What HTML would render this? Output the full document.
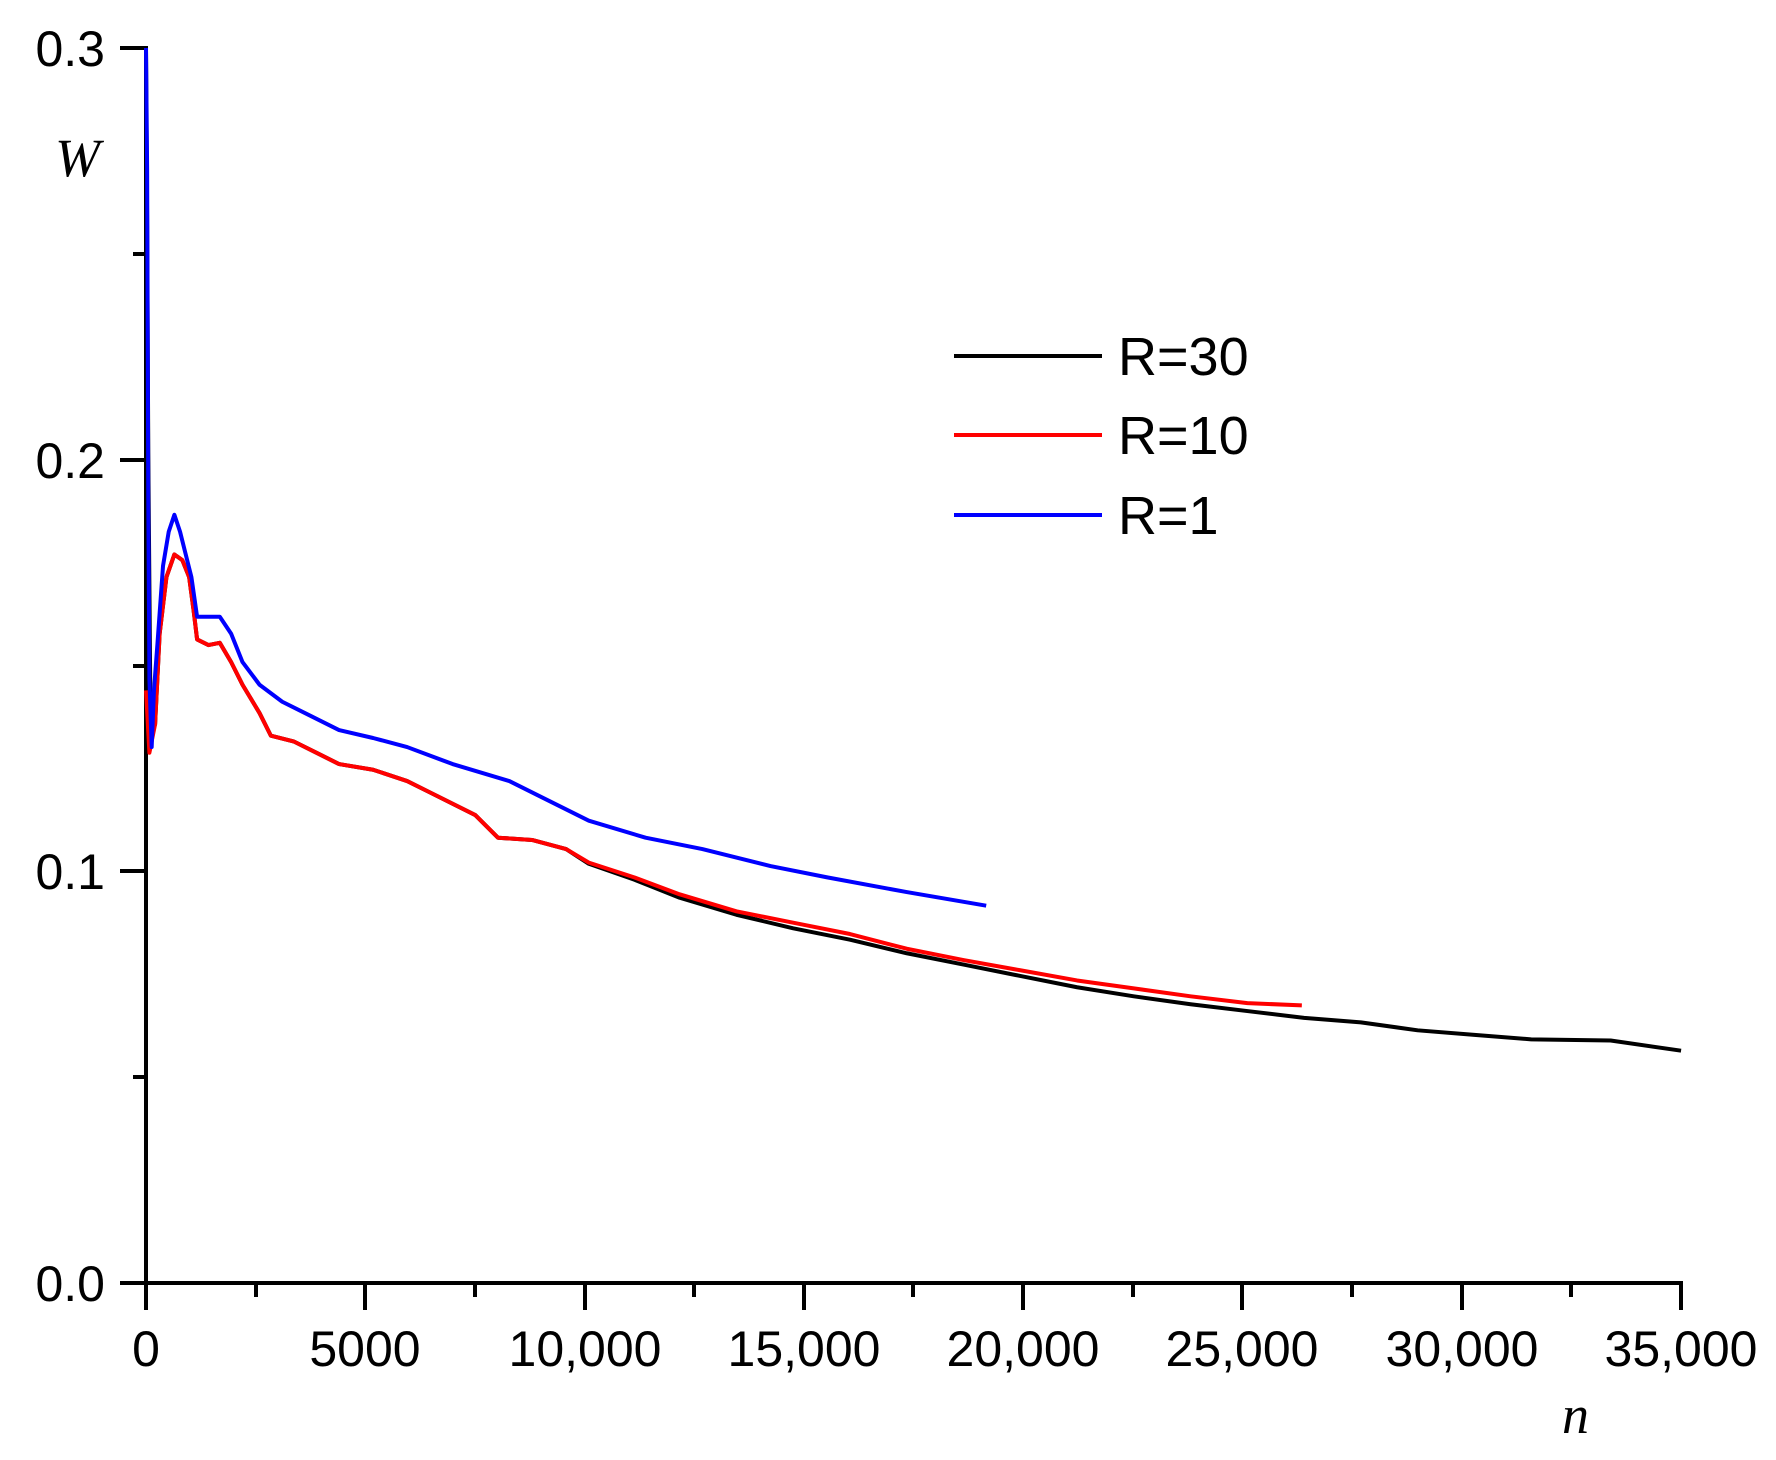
<!DOCTYPE html>
<html><head><meta charset="utf-8"><style>
html,body{margin:0;padding:0;background:#fff;}
svg{display:block;}
text{font-family:"Liberation Sans",sans-serif;fill:#000;}
</style></head><body>
<svg width="1776" height="1460" viewBox="0 0 1776 1460" xmlns="http://www.w3.org/2000/svg">
<g stroke="#000" stroke-width="4" fill="none">
<line x1="146" y1="46" x2="146" y2="1294"/>
<line x1="120" y1="1283" x2="1683" y2="1283"/>
<line x1="1681" y1="1281" x2="1681" y2="1310"/>
<line x1="120" y1="48" x2="146" y2="48"/>
<line x1="120" y1="460" x2="146" y2="460"/>
<line x1="120" y1="871" x2="146" y2="871"/>
<line x1="133" y1="254" x2="146" y2="254"/>
<line x1="133" y1="666" x2="146" y2="666"/>
<line x1="133" y1="1077" x2="146" y2="1077"/>
<line x1="146" y1="1283" x2="146" y2="1310"/>
<line x1="256" y1="1283" x2="256" y2="1297"/>
<line x1="365" y1="1283" x2="365" y2="1310"/>
<line x1="475" y1="1283" x2="475" y2="1297"/>
<line x1="585" y1="1283" x2="585" y2="1310"/>
<line x1="694" y1="1283" x2="694" y2="1297"/>
<line x1="804" y1="1283" x2="804" y2="1310"/>
<line x1="913" y1="1283" x2="913" y2="1297"/>
<line x1="1023" y1="1283" x2="1023" y2="1310"/>
<line x1="1133" y1="1283" x2="1133" y2="1297"/>
<line x1="1242" y1="1283" x2="1242" y2="1310"/>
<line x1="1352" y1="1283" x2="1352" y2="1297"/>
<line x1="1462" y1="1283" x2="1462" y2="1310"/>
<line x1="1571" y1="1283" x2="1571" y2="1297"/>
</g>
<g font-size="50" text-anchor="end">
<text x="105" y="66">0.3</text>
<text x="105" y="478">0.2</text>
<text x="105" y="889">0.1</text>
<text x="105" y="1301">0.0</text>
</g>
<g font-size="50" text-anchor="middle">
<text x="146" y="1366">0</text>
<text x="365" y="1366">5000</text>
<text x="585" y="1366">10,000</text>
<text x="804" y="1366">15,000</text>
<text x="1023" y="1366">20,000</text>
<text x="1242" y="1366">25,000</text>
<text x="1462" y="1366">30,000</text>
<text x="1681" y="1366">35,000</text>
</g>
<text x="55" y="176" font-size="54" font-style="italic" style="font-family:'Liberation Serif',serif">W</text>
<text x="1562" y="1433" font-size="54" font-style="italic" style="font-family:'Liberation Serif',serif">n</text>
<g stroke-width="4" fill="none">
<line x1="954" y1="356" x2="1102" y2="356" stroke="#000"/>
<line x1="954" y1="435" x2="1102" y2="435" stroke="#f00"/>
<line x1="954" y1="515" x2="1102" y2="515" stroke="#00f"/>
</g>
<g font-size="54">
<text x="1118" y="375">R=30</text>
<text x="1118" y="454">R=10</text>
<text x="1118" y="534">R=1</text>
</g>
<g transform="translate(146,48) scale(1.1354,1.133) translate(-130,-43)" fill="none" stroke-linejoin="round">
<polyline vector-effect="non-scaling-stroke" stroke="#000" stroke-width="4" points="130,43 131,200 132,400 134,640 138,640 142,560 148,510 155,490 162,495 168,510 172,540 175,565 185,570 195,568 205,585 215,605 230,630 240,650 260,655 280,665 300,675 330,680 360,690 380,700 420,720 440,740 470,742 500,750 520,763 560,777 600,793 650,808 700,820 750,830 800,842 850,852 900,862 950,872 1000,880 1050,887 1100,893 1150,899 1200,903 1250,910 1300,914 1350,918 1420,919 1482,928"/>
<polyline vector-effect="non-scaling-stroke" stroke="#f00" stroke-width="4" points="130,610 133,665 138,640 142,560 148,510 155,490 162,495 168,510 172,540 175,565 185,570 195,568 205,585 215,605 230,630 240,650 260,655 280,665 300,675 330,680 360,690 380,700 420,720 440,740 470,742 500,750 520,762 560,775 600,790 650,805 700,815 750,825 800,838 850,848 900,857 950,866 1000,873 1050,880 1100,886 1148,888"/>
<polyline vector-effect="non-scaling-stroke" stroke="#00f" stroke-width="4" points="130,43 131,150 132,440 133,600 135,660 137,610 140,570 145,500 150,470 155,455 160,470 165,490 170,510 175,545 185,545 195,545 205,560 215,585 230,605 250,620 270,630 300,645 330,652 360,660 400,675 450,690 480,705 520,725 570,740 620,750 680,765 730,775 800,788 870,800"/>
</g>
</svg>
</body></html>
